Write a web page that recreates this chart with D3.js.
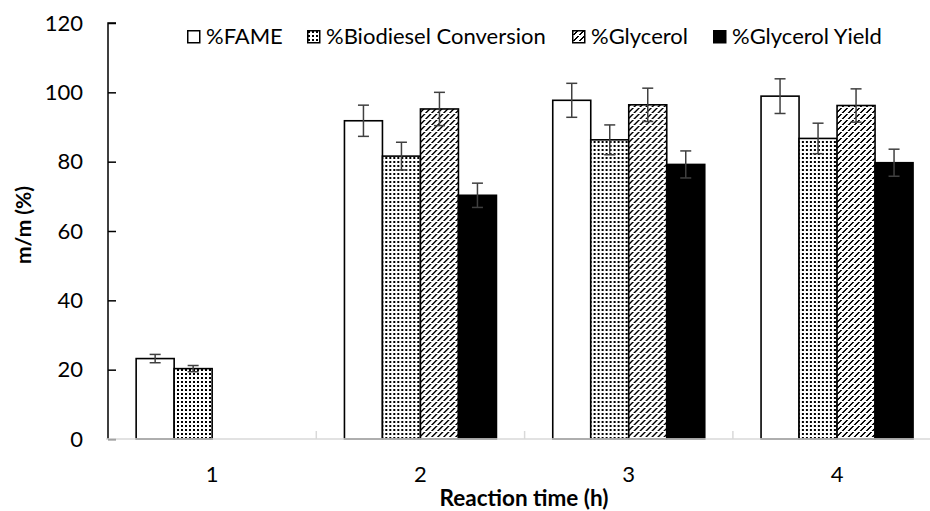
<!DOCTYPE html>
<html>
<head>
<meta charset="utf-8">
<script src="https://cdn.jsdelivr.net/npm/d3@7"></script>
<style>
    html, body { margin: 0; padding: 0; background: #fff; }
    svg { display: block; font-family: Lato, "Open Sans", sans-serif; }
</style>
</head>
<body>
<svg id="chart" width="930" height="511"></svg>
<script>
// Chart data
const categories = ['1', '2', '3', '4'];
const seriesNames = ['%FAME', '%Biodiesel Conversion', '%Glycerol', '%Glycerol Yield'];
const fame = [23.2, 91.8, 97.7, 98.9];
const biodiesel = [20.3, 81.6, 86.3, 86.7];
const glycerol = [null, 95.2, 96.4, 96.2];
const glycerolYield = [null, 70.3, 79.2, 79.7];
const fameErr = [1.2, 4.5, 4.9, 5.0];
const biodieselErr = [0.9, 4.0, 4.3, 4.4];
const glycerolErr = [null, 4.8, 4.8, 4.8];
const glycerolYieldErr = [null, 3.5, 3.9, 3.9];
const yTicks = [0, 20, 40, 60, 80, 100, 120];

const values = [fame, biodiesel, glycerol, glycerolYield];
const errors = [fameErr, biodieselErr, glycerolErr, glycerolYieldErr];
const fills = ['#fff', 'url(#dots)', 'url(#hatch)', '#000'];

const svg = d3.select('#chart');
const plotLeft = 108, plotBottom = 439, plotTop = 23;
const band = 208.3;

// Patterns
const defs = svg.append('defs');
const dots = defs.append('pattern')
    .attr('id', 'dots')
    .attr('patternUnits', 'userSpaceOnUse')
    .attr('width', 4).attr('height', 4);
dots.append('rect').attr('width', 4).attr('height', 4).attr('fill', '#fff');
dots.append('rect').attr('x', 1).attr('y', 1).attr('width', 2).attr('height', 2).attr('fill', '#000');

// dashed upward diagonal, built from whole pixels
const hatch = defs.append('pattern')
    .attr('id', 'hatch')
    .attr('patternUnits', 'userSpaceOnUse')
    .attr('width', 6).attr('height', 6);
hatch.append('rect').attr('width', 6).attr('height', 6).attr('fill', '#fff');
for (let r = 0; r < 5; r++) {
    const px = (5 - r + 6) % 6;
    [px, (px + 1) % 6].forEach(cx => {
        hatch.append('rect')
            .attr('x', cx).attr('y', r)
            .attr('width', 1).attr('height', 1)
            .attr('fill', '#000')
            .attr('shape-rendering', 'crispEdges');
    });
}

// Scales
const x0 = d3.scaleBand()
    .domain(categories)
    .range([plotLeft, plotLeft + band * categories.length])
    .padding(0);

const groupW = 152;
const x1 = d3.scaleBand()
    .domain(d3.range(seriesNames.length))
    .range([(band - groupW) / 2, (band + groupW) / 2])
    .padding(0);

const y = d3.scaleLinear()
    .domain([0, 120])
    .range([plotBottom, plotTop]);

// Bars
const groups = svg.append('g')
    .selectAll('g')
    .data(categories)
    .join('g')
    .attr('transform', d => `translate(${x0(d)},0)`);

groups.each(function(cat, ci) {
    const g = d3.select(this);
    values.forEach((vals, si) => {
        const v = vals[ci];
        if (v == null) return;
        g.append('rect')
            .attr('x', x1(si))
            .attr('y', y(v))
            .attr('width', x1.bandwidth())
            .attr('height', y(0) - y(v))
            .attr('fill', fills[si])
            .attr('stroke', '#000')
            .attr('stroke-width', 1.6);
    });
    // error bars on top
    values.forEach((vals, si) => {
        const v = vals[ci];
        const e = errors[si][ci];
        if (v == null) return;
        const cx = x1(si) + x1.bandwidth() / 2;
        const eg = g.append('g')
            .attr('stroke', '#404040')
            .attr('stroke-width', 1.5);
        eg.append('line').attr('x1', cx).attr('x2', cx).attr('y1', y(v - e)).attr('y2', y(v + e));
        eg.append('line').attr('x1', cx - 5.5).attr('x2', cx + 5.5).attr('y1', y(v - e)).attr('y2', y(v - e));
        eg.append('line').attr('x1', cx - 5.5).attr('x2', cx + 5.5).attr('y1', y(v + e)).attr('y2', y(v + e));
    });
});

// Y axis
const yAxis = svg.append('g')
    .attr('transform', `translate(${plotLeft},0)`)
    .call(d3.axisLeft(y).tickValues(yTicks).tickSize(-8).tickPadding(25));
yAxis.select('.domain').attr('stroke', '#000').attr('stroke-width', 1.5)
    .attr('d', `M8,${plotTop}H0V${plotBottom}`);
yAxis.selectAll('.tick line').attr('stroke', '#000').attr('stroke-width', 1.5);
yAxis.selectAll('.tick text')
    .attr('font-size', 22)
    .attr('fill', '#000')
    .attr('font-family', 'Lato, sans-serif');

// X axis
const xAxis = svg.append('g')
    .attr('transform', `translate(0,${plotBottom})`);
xAxis.append('line')
    .attr('x1', plotLeft - 2).attr('x2', 930)
    .attr('stroke', '#d9d9d9').attr('stroke-width', 1.5);
xAxis.selectAll('.sep')
    .data(categories.slice(1))
    .join('line')
    .attr('class', 'sep')
    .attr('x1', d => x0(d)).attr('x2', d => x0(d))
    .attr('y1', 0).attr('y2', -8)
    .attr('stroke', '#d9d9d9').attr('stroke-width', 1.5);
xAxis.selectAll('.lbl')
    .data(categories)
    .join('text')
    .attr('class', 'lbl')
    .attr('x', d => x0(d) + band / 2)
    .attr('y', 43)
    .attr('text-anchor', 'middle')
    .attr('font-size', 22)
    .text(d => d);

// Axis titles
svg.append('text')
    .attr('x', 524)
    .attr('y', 506)
    .attr('text-anchor', 'middle')
    .attr('font-weight', 'bold')
    .attr('font-size', 22.5)
    .text('Reaction time (h)');

svg.append('text')
    .attr('transform', 'translate(31,225) rotate(-90)')
    .attr('text-anchor', 'middle')
    .attr('font-weight', 'bold')
    .attr('font-size', 21)
    .text('m/m (%)');

// Legend
const legendX = [187, 307, 572, 713];
const legend = svg.append('g')
    .selectAll('g')
    .data(seriesNames)
    .join('g')
    .attr('transform', (d, i) => `translate(${legendX[i]},30)`);
legend.append('rect')
    .attr('x', 0.75).attr('y', 0.75)
    .attr('width', 12).attr('height', 12)
    .attr('fill', (d, i) => fills[i])
    .attr('stroke', '#000')
    .attr('stroke-width', 1.5);
legend.append('text')
    .attr('x', 19)
    .attr('y', 14)
    .attr('font-size', 22)
    .text(d => d);
</script>
</body>
</html>
